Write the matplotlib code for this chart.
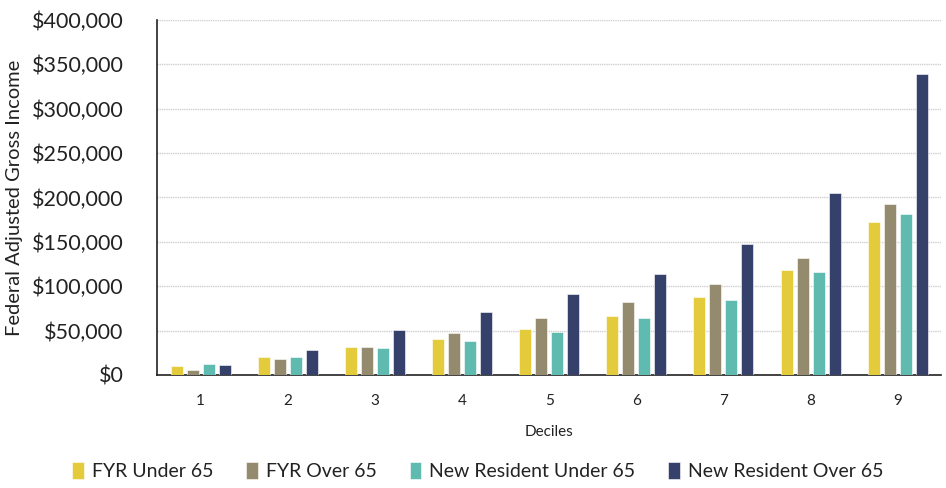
import numpy as np
import matplotlib.pyplot as plt
from matplotlib.ticker import FuncFormatter

plt.rcParams['font.family'] = ['Lato', 'DejaVu Sans']

deciles = ['1', '2', '3', '4', '5', '6', '7', '8', '9']
series_names = ['FYR Under 65', 'FYR Over 65', 'New Resident Under 65', 'New Resident Over 65']

fyr_under_65 = [10100, 20600, 31500, 41000, 51500, 66500, 88000, 118700, 172500]
fyr_over_65 = [6000, 18000, 31500, 47700, 63900, 82600, 102500, 132000, 192500]
new_under_65 = [12700, 20600, 30000, 38000, 48800, 63900, 84000, 116000, 181500]
new_over_65 = [11300, 27800, 50300, 70600, 90900, 113500, 148000, 205000, 339500]

colors = ['#E3CB3B', '#948A6E', '#5FBBB0', '#36416B']

fig = plt.figure(figsize=(9.46, 4.88), dpi=100)
ax = fig.add_axes([0.166, 0.2316, 0.829, 0.7274])

x = np.arange(len(deciles))
pitch = 0.184
width = 0.138
all_series = [fyr_under_65, fyr_over_65, new_under_65, new_over_65]
for i, (vals, name, c) in enumerate(zip(all_series, series_names, colors)):
    ax.bar(x + (i - 1.5) * pitch, vals, width, color=c, label=name,
           edgecolor='white', linewidth=0.4, zorder=3)

ax.set_xlim(-0.5, 8.5)
ax.set_ylim(0, 400000)
ax.set_yticks(np.arange(0, 400001, 50000))
ax.yaxis.set_major_formatter(FuncFormatter(lambda v, p: '${:,.0f}'.format(v)))
ax.set_xticks(x)
ax.set_xticklabels(deciles)

ax.grid(axis='y', color='#d0d0d0', linestyle=(0, (1, 0.6)), linewidth=1.0, zorder=0)
for s in ['top', 'right']:
    ax.spines[s].set_visible(False)
ax.spines['left'].set_color('#222222')
ax.spines['bottom'].set_color('#222222')
ax.spines['left'].set_linewidth(1.2)
ax.spines['bottom'].set_linewidth(1.2)

ax.tick_params(axis='y', length=0, pad=24, labelsize=15.5, labelcolor='#222222')
ax.tick_params(axis='x', length=0, pad=14, labelsize=11, labelcolor='#222222')

ax.set_ylabel('Federal Adjusted Gross Income', fontsize=14.5, color='#222222', labelpad=6)
ax.set_xlabel('Deciles', fontsize=11, color='#222222', labelpad=12)

fig.legend(loc='lower center', bbox_to_anchor=(0.505, -0.02), ncol=4, frameon=False,
           fontsize=14, handlelength=0.6, handleheight=0.9, handletextpad=0.4,
           columnspacing=1.7, labelcolor='#222222')

fig.savefig('out.png', dpi=100)
